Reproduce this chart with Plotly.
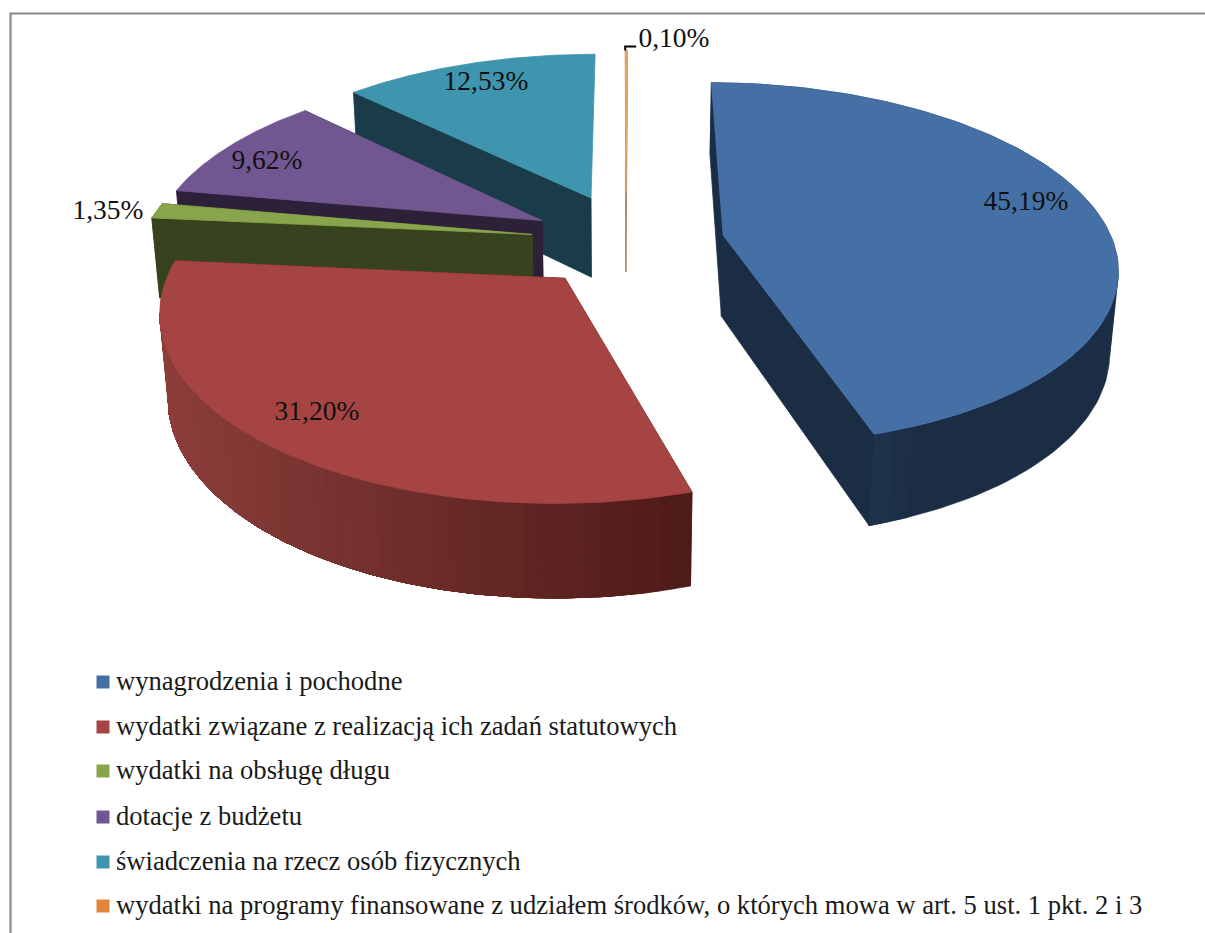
import numpy as np
import plotly.graph_objects as go

# ---- data ----
categories = [
    "wynagrodzenia i pochodne",
    "wydatki związane z realizacją ich zadań statutowych",
    "wydatki na obsługę długu",
    "dotacje z budżetu",
    "świadczenia na rzecz osób fizycznych",
    "wydatki na programy finansowane z udziałem środków, o których mowa w art. 5 ust. 1 pkt. 2 i 3",
]
values = [45.19, 31.20, 1.35, 9.62, 12.53, 0.10]
value_labels = ["45,19%", "31,20%", "1,35%", "9,62%", "12,53%", "0,10%"]

# ---- style ----
top_colors = ["#4570A6", "#A54442", "#88A54C", "#715791", "#3F94AE", "#E9A060"]
wall_colors = ["#1B2D45", "#4E1B18", "#37421E", "#2C2138", "#1A3C48", "#A58C78"]
legend_colors = ["#4570A6", "#A54442", "#88A54C", "#715791", "#3F94AE", "#E0853B"]
explode_world = [(.265, .044), (-.136, -.19), (-.226, .048), (-.203, .127), (-.077, .26), (.016, .29)]
slice_radius = [.995, .985, 1, 1, 1, 1]
label_px = [(1026, 203), (317, 413), (108, 212), (267, 162), (486, 83), (674, 40)]
legend_rows = [682, 727, 771, 817, 862, 906]
LEG_SQ_X, LEG_TXT_X = 103, 116
FONT = "Liberation Serif"
LABEL_SIZE, LEGEND_SIZE = 27.5, 26.6

# perspective model of the pie
CX, CY, A, B, P, DEPTH, DELTA = 620, 243, 180, 392, .16, 83, .0175
START = 0.4

def top(x, y):
    d = 1 + P * y
    return CX + B * x / d, CY - A * y / d

def bottom(x, y):
    d = 1 + P * y + DELTA
    return CX + B * x / d, CY + (DEPTH - A * y) / d

def poly(fig, xs, ys, color, width=0.8):
    fig.add_trace(go.Scatter(
        x=list(xs), y=list(ys), mode="lines", fill="toself", fillcolor=color,
        line=dict(color=color, width=width), hoverinfo="skip", showlegend=False))

def mix(c1, c2, t):
    a = [int(c1[i:i+2], 16) for i in (1, 3, 5)]
    b = [int(c2[i:i+2], 16) for i in (1, 3, 5)]
    return "#%02x%02x%02x" % tuple(int(round(u + (v - u) * t)) for u, v in zip(a, b))

fig = go.Figure()

total = sum(values)
edges = np.concatenate([[0], np.cumsum(values)]) / total * 360 + START
order = [5, 4, 3, 2, 0, 1]  # painter's order, back to front

for i in order:
    ax, ay = explode_world[i]
    r = slice_radius[i]
    t = np.radians(np.linspace(edges[i], edges[i + 1], 121))
    wx, wy = ax + r * np.sin(t), ay + r * np.cos(t)
    tx, ty = top(wx, wy)
    bx, by = bottom(wx, wy)
    apx, apy = top(ax, ay)
    abx, aby = bottom(ax, ay)
    lw = 1.2 if i == 5 else 0.8
    n = len(t)

    def band(k, e, c):
        xs = list(tx[k:e + 1]) + list(bx[k:e + 1][::-1]) + [tx[k]]
        ys = list(ty[k:e + 1]) + list(by[k:e + 1][::-1]) + [ty[k]]
        poly(fig, xs, ys, c, 0.6)

    # radial faces
    poly(fig, [apx, tx[0], bx[0], abx, apx], [apy, ty[0], by[0], aby, apy], wall_colors[i], lw)
    if i != 4:
        poly(fig, [apx, tx[-1], bx[-1], abx, apx], [apy, ty[-1], by[-1], aby, apy], wall_colors[i], lw)

    # outer wall, split at the silhouette point so the band never folds over itself
    if i == 0:
        s = int(np.argmax(tx))
        band(0, s, wall_colors[i])
        band(s, n - 1, wall_colors[i])
        band(n - 5, n - 1, "#1C2F47")
        band(n - 3, n - 1, "#1E324B")
    elif i == 1:
        s = int(np.argmin(tx))
        shade = lambda k: mix("#4E1B18", "#8C3E3B", np.clip((695 - tx[k]) / (695 - 160), 0, 1))
        band(s, n - 1, shade(s))
        for k in range(0, s, 2):
            band(k, s, shade(k))
    elif i == 2:
        band(0, n - 1, wall_colors[i])

    # top face
    poly(fig, [apx] + list(tx) + [apx], [apy] + list(ty) + [apy], top_colors[i], lw)

# leader line for the smallest slice
ox, oy = top(explode_world[5][0], explode_world[5][1] + 1)
fig.add_trace(go.Scatter(x=[ox, ox, ox + 11], y=[oy, oy - 4, oy - 4], mode="lines",
                         line=dict(color="#000000", width=2), hoverinfo="skip", showlegend=False))

# value labels
fig.add_trace(go.Scatter(
    x=[p[0] for p in label_px], y=[p[1] for p in label_px], mode="text", text=value_labels,
    textposition="middle center", textfont=dict(family=FONT, size=LABEL_SIZE, color="#111111"),
    hoverinfo="skip", showlegend=False))

# legend
fig.add_trace(go.Scatter(
    x=[LEG_SQ_X] * len(categories), y=legend_rows, mode="markers",
    marker=dict(symbol="square", size=13, color=legend_colors), hoverinfo="skip", showlegend=False))
fig.add_trace(go.Scatter(
    x=[LEG_TXT_X] * len(categories), y=[v + 1 for v in legend_rows], mode="text", text=categories,
    textposition="middle right", textfont=dict(family=FONT, size=LEGEND_SIZE, color="#1a1a1a"),
    hoverinfo="skip", showlegend=False))

fig.update_layout(
    width=1205, height=933, margin=dict(l=0, r=0, t=0, b=0),
    paper_bgcolor="#ffffff", plot_bgcolor="#ffffff", showlegend=False,
    xaxis=dict(range=[0, 1205], visible=False, fixedrange=True),
    yaxis=dict(range=[933, 0], visible=False, fixedrange=True),
    shapes=[dict(type="path", path="M 1205 13.5 L 10.5 13.5 L 10.5 933", xref="x", yref="y",
                 line=dict(color="#8a8a8a", width=2.2), layer="below")],
)

fig.write_html("out.html", config={"displayModeBar": False},
               post_script="document.body.style.margin='0';document.body.style.overflow='hidden';")
